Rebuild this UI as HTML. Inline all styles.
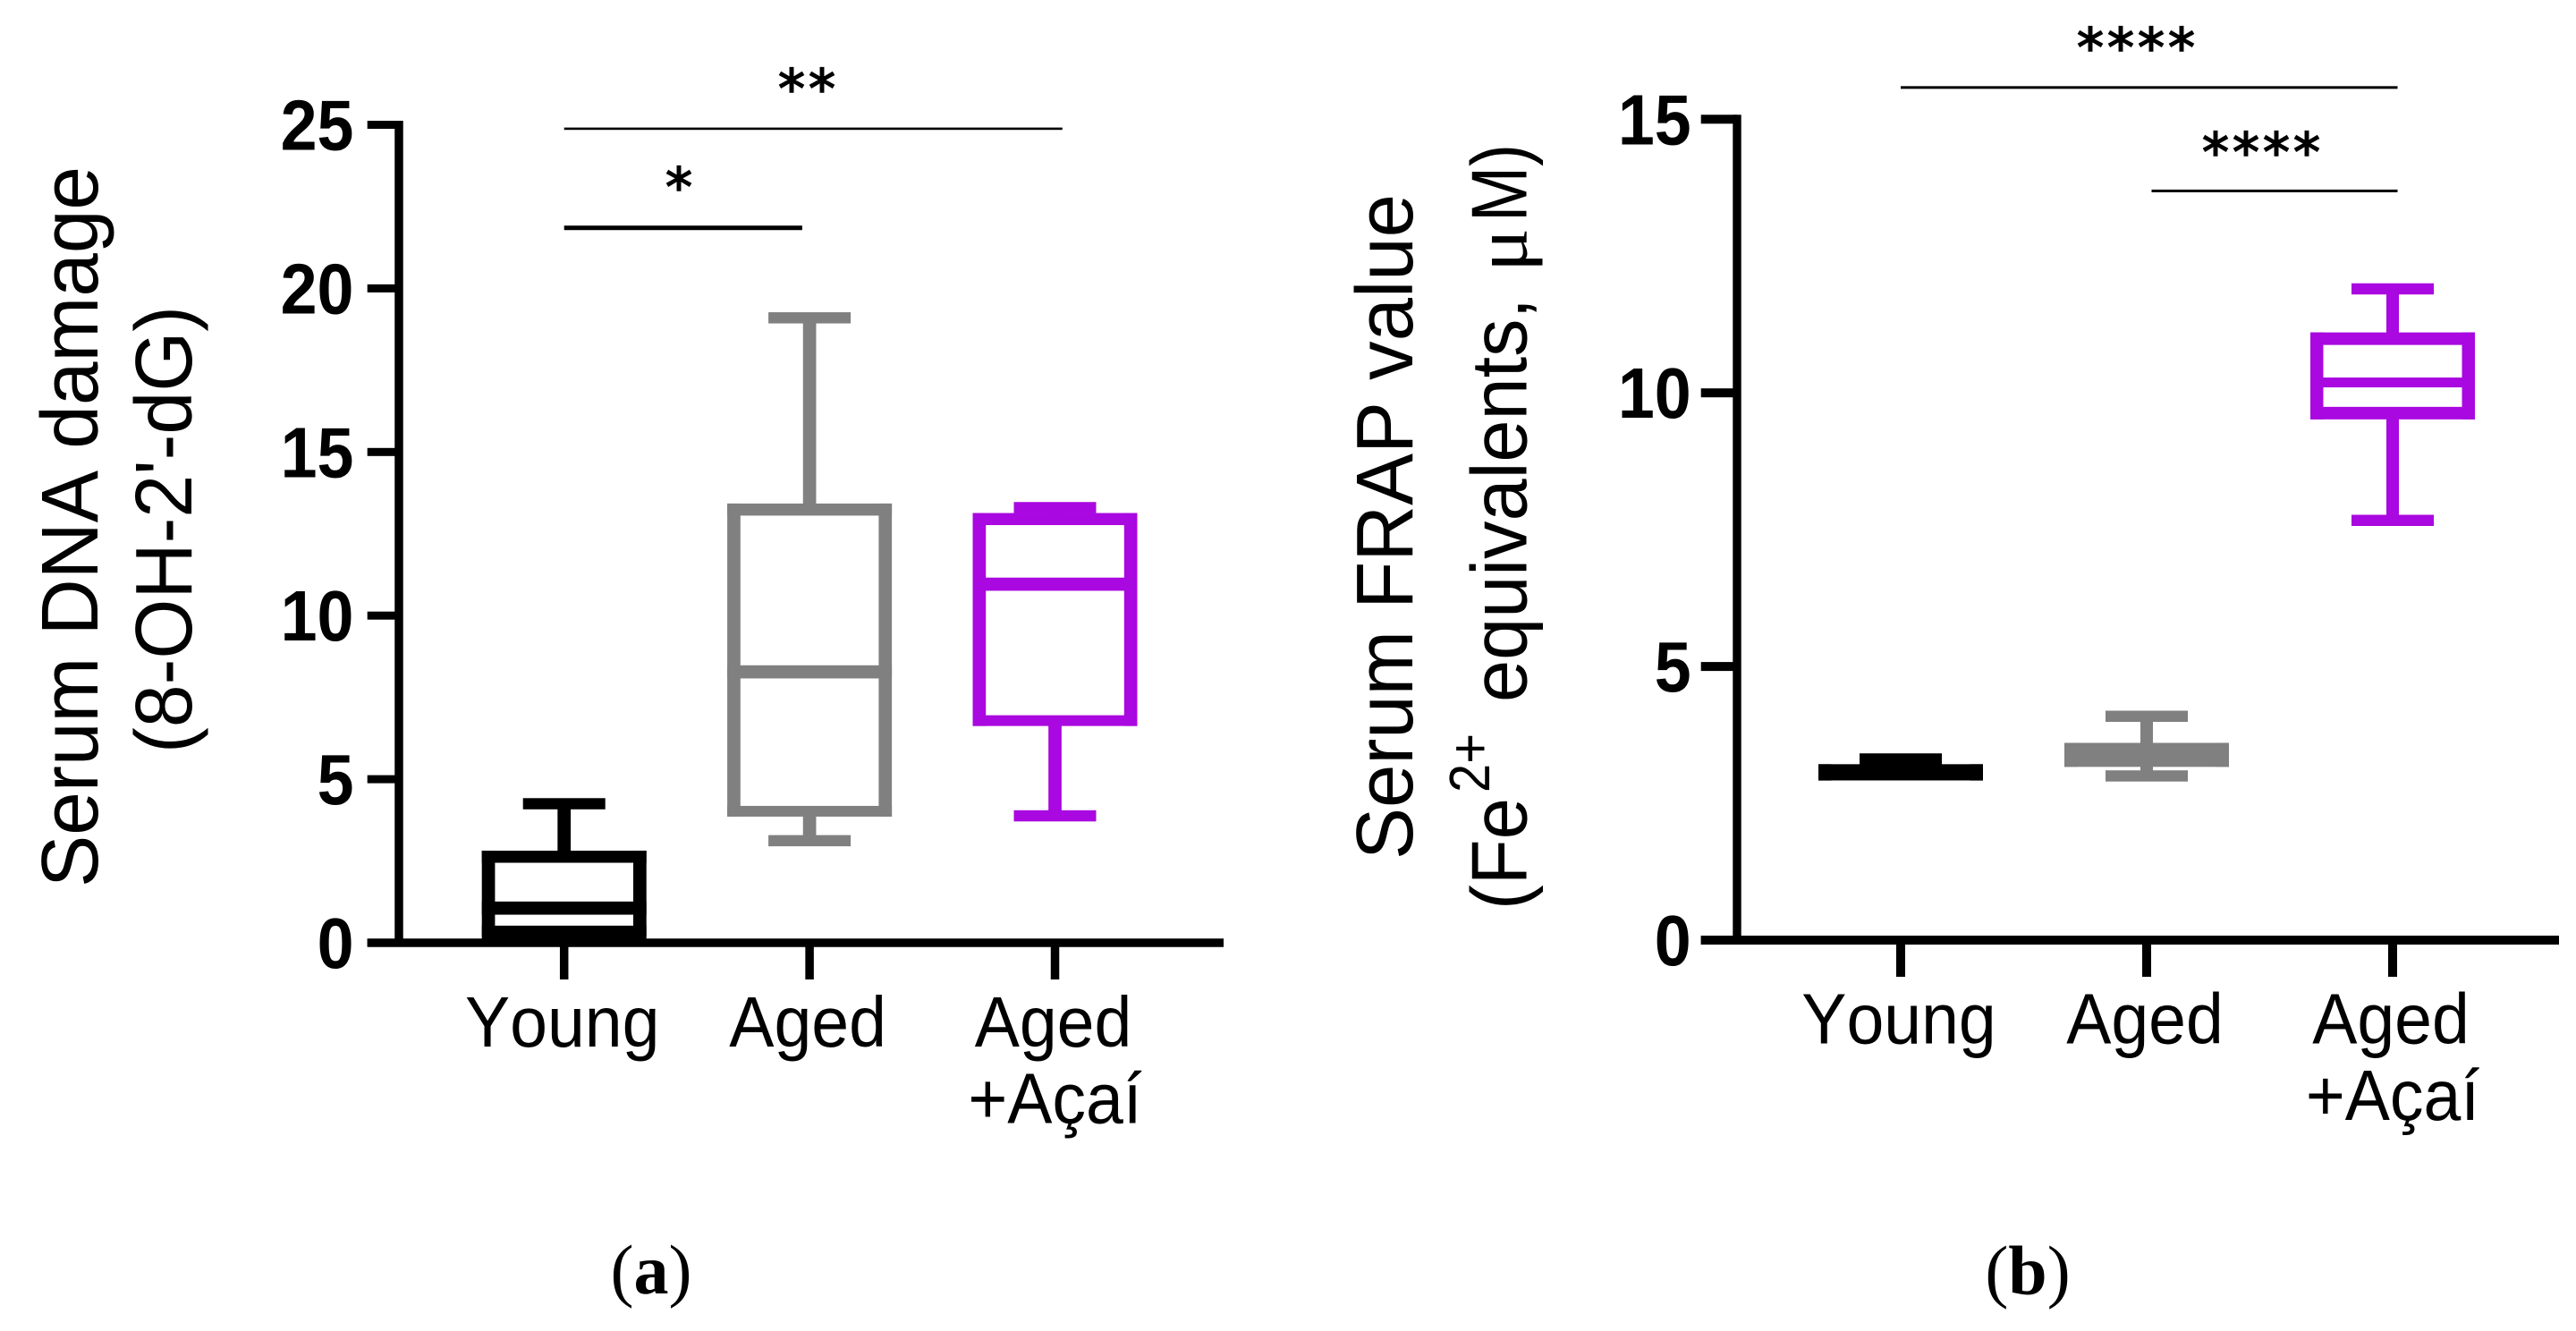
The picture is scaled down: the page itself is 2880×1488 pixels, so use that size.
<!DOCTYPE html>
<html lang="en">
<head>
<meta charset="utf-8">
<title>Serum DNA damage and FRAP box plots</title>
<style>
  html, body { margin: 0; padding: 0; background: #fff; }
  svg { display: block; }
  text { font-family: "Liberation Sans", Arial, sans-serif; fill: #000; font-kerning: none; }
  .stars { font-family: "DejaVu Sans", sans-serif; font-size: 60px; letter-spacing: 4px; text-anchor: middle; stroke: #000; stroke-width: 1.6px; }
  .caption { font-family: "Liberation Serif", serif; font-size: 78px; text-anchor: middle; }
</style>
</head>
<body>
<svg id="figure" xmlns="http://www.w3.org/2000/svg" width="2880" height="1488" viewBox="0 0 2880 1488">
  <rect width="2880" height="1488" fill="#fff"/>
  <g id="panel-a">
    <text transform="translate(109,992) rotate(-90)" font-size="90" textLength="806" lengthAdjust="spacingAndGlyphs">Serum DNA damage</text>
    <text transform="translate(214,842) rotate(-90)" font-size="90" textLength="500" lengthAdjust="spacingAndGlyphs">(8-OH-2'-dG)</text>
    <text class="stars" x="904" y="120">**</text>
    <text class="stars" x="761" y="230">*</text>
    <text class="caption" x="728" y="1446">(<tspan font-weight="bold">a</tspan>)</text>
  </g>
  <g id="panel-b">
    <text transform="translate(1579,961) rotate(-90)" font-size="90" textLength="744" lengthAdjust="spacingAndGlyphs">Serum FRAP value</text>
    <g>
      <text transform="translate(1706.5,1017) rotate(-90)" font-size="88" textLength="125" lengthAdjust="spacingAndGlyphs">(Fe</text>
      <text transform="translate(1665,886) rotate(-90)" font-size="64" textLength="66" lengthAdjust="spacingAndGlyphs">2+</text>
      <text transform="translate(1706.5,785) rotate(-90)" font-size="88" textLength="452" lengthAdjust="spacingAndGlyphs">equivalents,</text>
      <text transform="translate(1706.5,304) rotate(-90)" font-size="84" textLength="49" lengthAdjust="spacingAndGlyphs" style="font-family:'Liberation Serif',serif">μ</text>
      <text transform="translate(1706.5,248) rotate(-90)" font-size="88" textLength="87" lengthAdjust="spacingAndGlyphs">M)</text>
    </g>
    <text class="stars" x="2390" y="74">****</text>
    <text class="stars" x="2530" y="191">****</text>
    <text class="caption" x="2267" y="1447">(<tspan font-weight="bold">b</tspan>)</text>
  </g>
</svg>
<script>
// Shared categories
const categoryLines = [["Young"], ["Aged"], ["Aged", "+Açaí"]];
const seriesColors = ["#000000", "#808080", "#a908e0"];

// Panel (a): Serum DNA damage
const yTicksA = [0, 5, 10, 15, 20, 25];
const minA = [0.14, 3.12, 3.88];
const q1A = [0.36, 4.02, 6.79];
const medianA = [1.06, 8.28, 10.96];
const q3A = [2.63, 13.24, 12.95];
const maxA = [4.25, 19.1, 13.3];
const sigFromA = [0, 0];
const sigToA = [2.03, 0.97];
const sigLevelA = [24.88, 21.85];

// Panel (b): Serum FRAP value
const yTicksB = [0, 5, 10, 15];
const minB = [3.02, 3.0, 7.67];
const q1B = [3.03, 3.28, 9.63];
const medianB = [3.06, 3.38, 10.19];
const q3B = [3.10, 3.49, 10.99];
const maxB = [3.31, 4.09, 11.9];
const sigFromB = [0, 1.02];
const sigToB = [2.02, 2.02];
const sigLevelB = [15.58, 13.69];

const SVG_NS = "http://www.w3.org/2000/svg";

function makeRect(parent, x, y, w, h, fill) {
  const r = document.createElementNS(SVG_NS, "rect");
  r.setAttribute("x", x);
  r.setAttribute("y", y);
  r.setAttribute("width", w);
  r.setAttribute("height", h);
  r.setAttribute("fill", fill);
  parent.appendChild(r);
  return r;
}

function makeGroup(parent) {
  const g = document.createElementNS(SVG_NS, "g");
  parent.appendChild(g);
  return g;
}

function makeText(parent, content, tx, ty, size, weight, anchor, squeeze) {
  const t = document.createElementNS(SVG_NS, "text");
  t.textContent = content;
  t.setAttribute("transform", "translate(" + tx + "," + ty + ") scale(" + squeeze + ",1)");
  t.setAttribute("font-size", size);
  t.setAttribute("font-weight", weight);
  t.setAttribute("text-anchor", anchor);
  parent.appendChild(t);
  return t;
}

function drawPanel(root, opts) {
  const x = opts.x, y = opts.y, g = opts.geom;

  // Boxes and whiskers
  opts.q1.forEach(function (q1, i) {
    const color = seriesColors[i];
    const cx = x(i);
    const box = makeGroup(root);
    
    

    const yMin = y(opts.min[i]), yMax = y(opts.max[i]);
    const yQ1 = y(q1), yQ3 = y(opts.q3[i]), yMed = y(opts.median[i]);

    const upper = makeRect(box, cx - g.whisker / 2, yMax, g.whisker, yQ3 - yMax, color);
    
    

    const lower = makeRect(box, cx - g.whisker / 2, yQ1, g.whisker, Math.max(0, yMin - yQ1), color);
    
    

    const capTop = makeRect(box, cx - g.capHalf, yMax - g.cap / 2, g.capHalf * 2, g.cap, color);
    
    

    const capLow = makeRect(box, cx - g.capHalf, yMin - g.cap / 2, g.capHalf * 2, g.cap, color);
    
    

    const left = makeRect(box, cx - g.boxHalf, yQ3 - g.top / 2, g.side, yQ1 - yQ3 + g.top / 2 + g.bottom / 2, color);
    
    

    const right = makeRect(box, cx + g.boxHalf - g.side, yQ3 - g.top / 2, g.side, yQ1 - yQ3 + g.top / 2 + g.bottom / 2, color);
    
    

    const top = makeRect(box, cx - g.boxHalf, yQ3 - g.top / 2, g.boxHalf * 2, g.top, color);
    
    

    // A whisker shorter than the stroke merges the box bottom into the whisker end.
    const merged = (yMin - yQ1) < g.merge;
    const bottomHeight = merged ? (yMin - yQ1) + g.cap / 2 + g.bottom / 2 : g.bottom;
    const bottom = makeRect(box, cx - g.boxHalf, yQ1 - g.bottom / 2, g.boxHalf * 2, bottomHeight, color);
    
    

    const med = makeRect(box, cx - g.boxHalf, yMed - g.median / 2, g.boxHalf * 2, g.median, color);
    
    
  });

  // Significance lines
  opts.sigLevel.forEach(function (level, i) {
    const x0 = x(opts.sigFrom[i]);
    const x1 = x(opts.sigTo[i]);
    const h = opts.sigThickness[i];
    const line = makeRect(root, x0, y(level) - h / 2, x1 - x0, h, "#000");
    
    
  });

  // Axes
  const topTick = opts.yTicks[opts.yTicks.length - 1];
  const yAxis = makeRect(root, g.axisX - g.axisW / 2, y(topTick) - g.tickH / 2, g.axisW, y(0) - y(topTick) + g.tickH, "#000");
  
  

  const xAxis = makeRect(root, g.tickLeft, y(0) - g.xAxisH / 2, g.xAxisRight - g.tickLeft, g.xAxisH, "#000");
  
  

  opts.yTicks.forEach(function (v) {
    const tick = makeRect(root, g.tickLeft, y(v) - g.tickH / 2, g.axisX - g.tickLeft, g.tickH, "#000");
    
    

    const label = makeText(root, String(v), g.yLabelRight, y(v) + 28, 80, "bold", "end", 0.92);
    
    
  });

  categoryLines.forEach(function (lines, i) {
    const tick = makeRect(root, x(i) - g.xTickW / 2, y(0), g.xTickW, g.xTickBottom - y(0), "#000");
    
    

    lines.forEach(function (lineText, k) {
      const labelX = x(i) + (k === 0 ? -2 : 0);
      const label = makeText(root, lineText, labelX, g.xLabelBase + k * 85.5, 80, "normal", "middle", 0.94);
      
      
    });
  });
}

drawPanel(document.getElementById("panel-a"), {
  x: function (i) { return 630.7 + 274.4 * i; },
  y: function (v) { return 1054 - 36.58 * v; },
  yTicks: yTicksA, min: minA, q1: q1A, median: medianA, q3: q3A, max: maxA,
  sigFrom: sigFromA, sigTo: sigToA, sigLevel: sigLevelA, sigThickness: [2.6, 5],
  geom: { whisker: 14.7, capHalf: 46, cap: 12.5, boxHalf: 92, side: 14.7, top: 13.5, bottom: 12, median: 14.7, merge: 14,
          axisX: 446, axisW: 9.5, tickLeft: 410.7, tickH: 9, xAxisH: 9.5, xAxisRight: 1368, yLabelRight: 395.5,
          xTickW: 9.5, xTickBottom: 1095, xLabelBase: 1170 }
});

drawPanel(document.getElementById("panel-b"), {
  x: function (i) { return 2125 + 275 * i; },
  y: function (v) { return 1051 - 61.18 * v; },
  yTicks: yTicksB, min: minB, q1: q1B, median: medianB, q3: q3B, max: maxB,
  sigFrom: sigFromB, sigTo: sigToB, sigLevel: sigLevelB, sigThickness: [3, 3],
  geom: { whisker: 14, capHalf: 46, cap: 12.5, boxHalf: 92, side: 14.5, top: 14, bottom: 14, median: 11, merge: 3,
          axisX: 1942, axisW: 9.4, tickLeft: 1901.7, tickH: 10, xAxisH: 10, xAxisRight: 2861, yLabelRight: 1890.7,
          xTickW: 10, xTickBottom: 1092, xLabelBase: 1166.7 }
});
</script>
</body>
</html>
